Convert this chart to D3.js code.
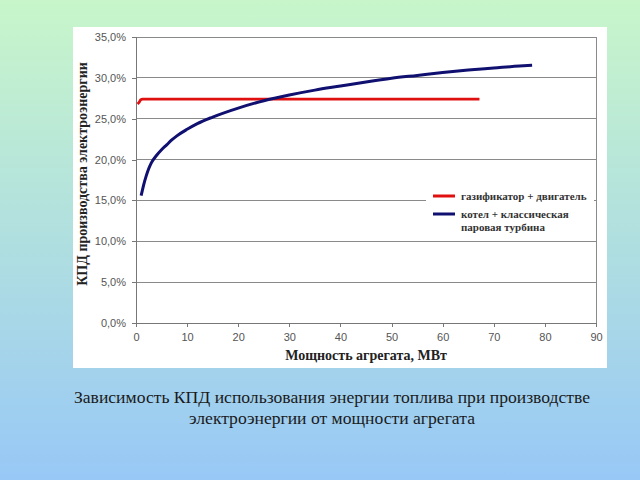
<!DOCTYPE html>
<html><head><meta charset="utf-8">
<script src="https://cdn.jsdelivr.net/npm/d3@7"></script>
<style>html,body{margin:0;padding:0;}svg{display:block;}</style>
</head><body>
<svg id="c" width="640" height="480"></svg>
<script>
// ---- data ----
const gasX = [0.3, 0.6, 0.9, 1.3, 10, 20, 30, 40, 50, 60, 67.2];
const gasY = [26.8, 27.0, 27.3, 27.4, 27.4, 27.4, 27.4, 27.4, 27.4, 27.4, 27.4];
const boilX = [1, 1.2, 1.5, 2, 2.5, 3, 4, 5, 6, 7, 8, 10, 12, 15, 20, 25, 30, 35, 40, 45, 50, 55, 60, 65, 70, 75, 77.5];
const boilY = [15.6, 16.1, 16.9, 18.0, 18.9, 19.6, 20.5, 21.2, 21.8, 22.4, 22.9, 23.7, 24.4, 25.2, 26.3, 27.2, 27.9, 28.5, 29.0, 29.5, 29.95, 30.3, 30.65, 30.95, 31.2, 31.45, 31.55];
const xTicks = [0, 10, 20, 30, 40, 50, 60, 70, 80, 90];
const yTicks = [0, 5, 10, 15, 20, 25, 30, 35];
const seriesNames = ["газификатор + двигатель", "котел + классическая|паровая турбина"];
const seriesColors = ["#e01010", "#101070"];
const xTitle = "Мощность агрегата, МВт";
const yTitle = "КПД производства электроэнергии";
const caption = ["Зависимость КПД использования энергии топлива при производстве", "электроэнергии от мощности агрегата"];

const SERIF = '"Liberation Serif"';
const SANS = '"Liberation Sans"';

const svg = d3.select("#c");
const defs = svg.append("defs");
const g = defs.append("linearGradient").attr("id","bg").attr("x1",0).attr("y1",0).attr("x2",0).attr("y2",1);
g.append("stop").attr("offset","0%").attr("stop-color","#c8f6ca");
g.append("stop").attr("offset","100%").attr("stop-color","#98c8f6");
svg.append("rect").attr("width",640).attr("height",480).attr("fill","url(#bg)");
svg.append("rect").attr("x",73).attr("y",27).attr("width",534).attr("height",341).attr("fill","#fff");

const x = d3.scaleLinear().domain([0,90]).range([136,596]);
const y = d3.scaleLinear().domain([0,35]).range([323,37]);

svg.append("g").selectAll("line").data(yTicks.filter(d=>d>0)).join("line")
  .attr("x1",x(0)).attr("x2",x(90)).attr("y1",d=>y(d)).attr("y2",d=>y(d))
  .attr("stroke","#8a8a8a").attr("stroke-width",1).attr("shape-rendering","crispEdges");
svg.append("line").attr("x1",x(90)).attr("x2",x(90)).attr("y1",y(35)).attr("y2",y(0))
  .attr("stroke","#8a8a8a").attr("shape-rendering","crispEdges");

const yAx = svg.append("g").attr("transform",`translate(${x(0)},0)`)
  .call(d3.axisLeft(y).tickValues(yTicks).tickSize(4).tickPadding(6)
    .tickFormat(d=>d3.format(".1f")(d).replace(".",",")+"%"));
const xAx = svg.append("g").attr("transform",`translate(0,${y(0)})`)
  .call(d3.axisBottom(x).tickValues(xTicks).tickSize(4).tickPadding(6));
[yAx,xAx].forEach(a=>{
  a.attr("font-family",SANS).attr("font-size",11);
  a.select(".domain").attr("stroke","#777").attr("shape-rendering","crispEdges");
  a.selectAll(".tick line").attr("stroke","#777").attr("shape-rendering","crispEdges");
  a.selectAll("text").attr("fill","#555");
});

svg.append("rect").attr("x",426).attr("y",183).attr("width",168).attr("height",54).attr("fill","#fff");

const line = d3.line().x(d=>x(d[0])).y(d=>y(d[1])).curve(d3.curveMonotoneX);
svg.append("path").datum(gasX.map((v,i)=>[v,gasY[i]])).attr("d",line)
  .attr("fill","none").attr("stroke",seriesColors[0]).attr("stroke-width",2.8);
svg.append("path").datum(boilX.map((v,i)=>[v,boilY[i]])).attr("d",line)
  .attr("fill","none").attr("stroke",seriesColors[1]).attr("stroke-width",3);

seriesNames.forEach((n,i)=>{
  const ly = i===0 ? 196 : 214;
  svg.append("line").attr("x1",433).attr("x2",455).attr("y1",ly).attr("y2",ly)
    .attr("stroke",seriesColors[i]).attr("stroke-width",3);
  n.split("|").forEach((t,j)=>{
    svg.append("text").attr("x",461).attr("y",ly+3.5+j*13).text(t)
      .attr("font-family",SERIF).attr("font-weight","bold").attr("font-size",11).attr("fill","#333");
  });
});

svg.append("text").attr("x",366).attr("y",360).attr("text-anchor","middle")
  .attr("font-family",SERIF).attr("font-weight","bold").attr("font-size",14).attr("fill","#222").text(xTitle);
svg.append("text").attr("transform","translate(87,174) rotate(-90)").attr("text-anchor","middle")
  .attr("font-family",SERIF).attr("font-weight","bold").attr("font-size",14).attr("fill","#222").text(yTitle);

caption.forEach((t,i)=>{
  svg.append("text").attr("x",332).attr("y",403+i*21).attr("text-anchor","middle")
    .attr("font-family",SERIF).attr("font-size",17.6).attr("fill","#1a1a1a").text(t);
});
</script>
</body></html>
